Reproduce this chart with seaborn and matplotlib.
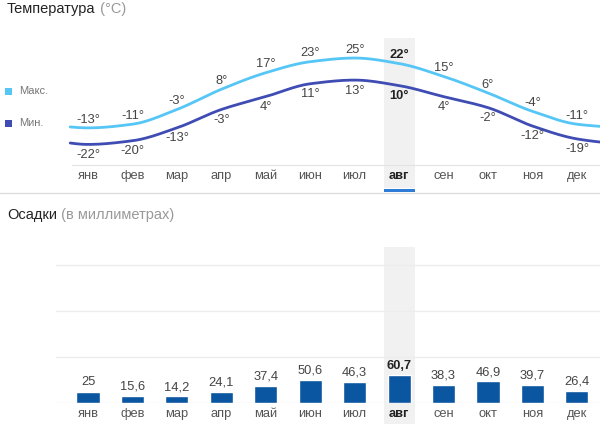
import numpy as np
import pandas as pd
import matplotlib
matplotlib.use("Agg")
import matplotlib.pyplot as plt
import seaborn as sns
from matplotlib.patches import Rectangle
from matplotlib.lines import Line2D

# ---- data ----
months = ['янв', 'фев', 'мар', 'апр', 'май', 'июн', 'июл', 'авг', 'сен', 'окт', 'ноя', 'дек']
t_max = [-13, -11, -3, 8, 17, 23, 25, 22, 15, 6, -4, -11]
t_min = [-22, -20, -13, -3, 4, 11, 13, 10, 4, -2, -12, -19]
precip = [25, 15.6, 14.2, 24.1, 37.4, 50.6, 46.3, 60.7, 38.3, 46.9, 39.7, 26.4]
precip_labels = ['25', '15,6', '14,2', '24,1', '37,4', '50,6', '46,3', '60,7', '38,3', '46,9', '39,7', '26,4']
highlight = 7  # авг

C_MAX = '#55c6f5'
C_MIN = '#3f4cb3'
C_BAR = '#0b56a0'
C_BAND = '#f1f1f1'
C_TXT = '#444444'
FS = 9.3

sns.set_style('white')
plt.rcParams['font.family'] = ['Liberation Sans', 'DejaVu Sans']


def pchip(x, y, xs):
    x = np.asarray(x, float)
    y = np.asarray(y, float)
    h = np.diff(x)
    d = np.diff(y) / h
    n = len(x)
    m = np.zeros(n)
    for k in range(1, n - 1):
        if d[k - 1] * d[k] <= 0:
            m[k] = 0.0
        else:
            w1 = 2 * h[k] + h[k - 1]
            w2 = h[k] + 2 * h[k - 1]
            m[k] = (w1 + w2) / (w1 / d[k - 1] + w2 / d[k])
    m[0] = d[0]
    m[-1] = d[-1]
    idx = np.clip(np.searchsorted(x, xs) - 1, 0, n - 2)
    t = (xs - x[idx]) / h[idx]
    h00 = 2 * t**3 - 3 * t**2 + 1
    h10 = t**3 - 2 * t**2 + t
    h01 = -2 * t**3 + 3 * t**2
    h11 = t**3 - t**2
    return h00 * y[idx] + h10 * h[idx] * m[idx] + h01 * y[idx + 1] + h11 * h[idx] * m[idx + 1]


# cyclic extension (previous December / next January)
xpos = np.arange(-1, 13)
def ext(v):
    return [v[-1]] + list(v) + [v[0]]

xs = np.linspace(-0.4, 11.6, 600)
curve = pd.DataFrame({
    'x': np.concatenate([xs, xs]),
    't': np.concatenate([pchip(xpos, ext(t_max), xs), pchip(xpos, ext(t_min), xs)]),
    's': ['Макс.'] * len(xs) + ['Мин.'] * len(xs),
})

W, H = 600, 424
fig = plt.figure(figsize=(6, 4.24), dpi=100)
ax1 = fig.add_axes([56 / W, 1 - 165 / H, 544 / W, 127 / H])
ax2 = fig.add_axes([56 / W, 1 - 403 / H, 544 / W, 156 / H])

XL = (-0.72, 11.52)

# ---- temperature ----
band = ax1.axvspan(highlight - 0.35, highlight + 0.35, ymin=-0.18, ymax=1, color=C_BAND, zorder=0, lw=0)
band.set_clip_on(False)
sns.lineplot(data=curve, x='x', y='t', hue='s', palette={'Макс.': C_MAX, 'Мин.': C_MIN},
             ax=ax1, lw=2, legend=False, sort=False, estimator=None)
ax1.set_xlim(*XL)
ax1.set_ylim(-33.2, 35.9)
for i, (a, b) in enumerate(zip(t_max, t_min)):
    bold = 'bold' if i == highlight else 'normal'
    col = '#222222' if i == highlight else C_TXT
    ax1.annotate(f'{a}°', (i, a), xytext=(0, 6), textcoords='offset points',
                 ha='center', va='center', fontsize=FS, color=col, weight=bold)
    ax1.annotate(f'{b}°', (i, b), xytext=(0, -7.5), textcoords='offset points',
                 ha='center', va='center', fontsize=FS, color=col, weight=bold)
for s in ['top', 'right', 'left']:
    ax1.spines[s].set_visible(False)
ax1.spines['bottom'].set_color('#e2e2e2')
ax1.spines['bottom'].set_bounds(-0.36, XL[1])
ax1.set_yticks([])
ax1.set_xticks(range(12), months)
ax1.tick_params(axis='x', length=0, pad=3.5, labelsize=FS, labelcolor='#555555')
ax1.set_xlabel('')
ax1.set_ylabel('')

# ---- precipitation ----
band2 = ax2.axvspan(highlight - 0.35, highlight + 0.35, ymin=-0.14, ymax=1, color=C_BAND, zorder=0, lw=0)
band2.set_clip_on(False)
sns.barplot(x=months, y=precip, order=months, color=C_BAR, saturation=1, width=0.52, ax=ax2, zorder=3)
ax2.set_xlim(*XL)
ax2.set_ylim(0, 340)
ax2.set_yticks([0, 100, 200, 300])
ax2.yaxis.grid(True, color='#ececec', lw=1)
ax2.set_axisbelow(True)
ax2.tick_params(axis='y', length=0, labelleft=False)
for s in ['top', 'right', 'left', 'bottom']:
    ax2.spines[s].set_visible(False)
for i, v in enumerate(precip):
    bold = 'bold' if i == highlight else 'normal'
    col = '#222222' if i == highlight else C_TXT
    ax2.annotate(precip_labels[i], (i, v), xytext=(0, 2.5), textcoords='offset points',
                 ha='center', va='bottom', fontsize=FS, color=col, weight=bold)
ax2.set_xticks(range(12), months)
ax2.tick_params(axis='x', length=0, pad=3.5, labelsize=FS, labelcolor='#555555')
ax2.set_xlabel('')
ax2.set_ylabel('')

for ax in (ax1, ax2):
    lab = ax.get_xticklabels()[highlight]
    lab.set_fontweight('bold')
    lab.set_color('#222222')

# ---- decorations ----
fig.add_artist(Line2D([0, 1], [1 - 193 / H] * 2, color='#dddddd', lw=1))
fig.add_artist(Rectangle((384 / W, 1 - 192 / H), 31 / W, 3 / H,
                         transform=fig.transFigure, color='#2e7cd6', lw=0))

t1 = fig.text(7 / W, 1 - 16 / H, 'Температура', fontsize=10.5, color='#222222', va='bottom')
ax1.annotate(' (°C)', xy=(1, 0), xycoords=t1, va='bottom', ha='left', fontsize=10.5,
             color='#999999', annotation_clip=False)
t2 = fig.text(7 / W, 1 - 222 / H, 'Осадки', fontsize=10.5, color='#222222', va='bottom')
ax2.annotate(' (в миллиметрах)', xy=(1, 0), xycoords=t2, va='bottom', ha='left', fontsize=10.5,
             color='#999999', annotation_clip=False)

# legend
for y, c, lbl in [(91, C_MAX, 'Макс.'), (123, C_MIN, 'Мин.')]:
    fig.add_artist(Rectangle((5 / W, 1 - (y + 3.5) / H), 7 / W, 7 / H,
                             transform=fig.transFigure, color=c, lw=0))
    fig.text(19 / W, 1 - y / H, lbl, fontsize=8, color='#777777', va='center', ha='left')

fig.savefig('out.png', dpi=100)
